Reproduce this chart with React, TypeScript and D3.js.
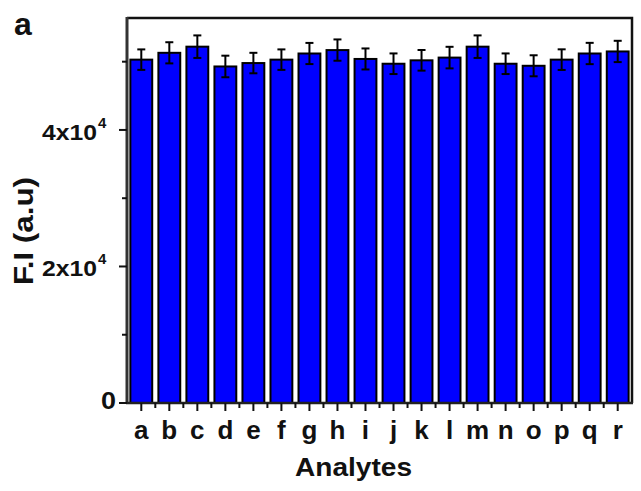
import React from "react";
import * as d3 from "d3";

const categories = ["a","b","c","d","e","f","g","h","i","j","k","l","m","n","o","p","q","r"];
const values = [50300,51300,52200,49300,49800,50300,51200,51700,50400,49700,50200,50600,52200,49700,49400,50300,51200,51500];
const errors = [1500,1550,1650,1580,1500,1500,1550,1560,1540,1510,1510,1580,1650,1510,1540,1510,1560,1560];
const yMajorTicks = [0, 20000, 40000];
const yMinorTicks = [10000, 30000, 50000];
const yTickLabels = [{ base: "0", exp: "" }, { base: "2x10", exp: "4" }, { base: "4x10", exp: "4" }];

const W = 641, H = 491;
const M = { left: 127, right: 632, top: 18, bottom: 403 };
const FONT = "'Liberation Sans', Arial, sans-serif";

export default function App() {
  const x = d3.scaleBand<string>().domain(categories).range([M.left, M.right]).paddingInner(0.22).paddingOuter(0.12);
  const y = d3.scaleLinear().domain([0, 56400]).range([M.bottom, M.top]);
  const bw = x.bandwidth();
  const step = x.step();
  const minorX = categories.slice(0, -1).map((c) => (x(c) as number) + bw / 2 + step / 2);
  return (
    <svg width={W} height={H} style={{ position: "absolute", left: 0, top: 0, background: "#fff" }} fontFamily={FONT}>
      {/* bars */}
      {categories.map((c, i) => (
        <rect key={c} x={x(c)} y={y(values[i])} width={bw} height={y(0) - y(values[i])}
          fill="#0000ff" stroke="#000" strokeWidth={2} />
      ))}
      {/* error bars */}
      {categories.map((c, i) => {
        const cx = (x(c) as number) + bw / 2;
        const t = y(values[i] + errors[i]);
        const b = y(values[i] - errors[i]);
        return (
          <g key={"e" + c} stroke="#000" strokeWidth={2}>
            <line x1={cx} x2={cx} y1={t} y2={b} />
            <line x1={cx - 4} x2={cx + 4} y1={t} y2={t} />
            <line x1={cx - 4} x2={cx + 4} y1={b} y2={b} />
          </g>
        );
      })}
      {/* frame */}
      <path d={`M${M.left},${M.top}H${M.right}V${M.bottom}`} fill="none" stroke="#111" strokeWidth={2.5} />
      <line x1={M.left} x2={M.left} y1={M.top - 1} y2={M.bottom + 1} stroke="#333" strokeWidth={3} />
      <line x1={M.left - 1} x2={M.right + 1} y1={M.bottom} y2={M.bottom} stroke="#222" strokeWidth={2.5} />
      {/* y ticks */}
      {yMajorTicks.map((v) => (
        <line key={"ym" + v} x1={M.left - 8} x2={M.left} y1={y(v)} y2={y(v)} stroke="#111" strokeWidth={2} />
      ))}
      {yMinorTicks.map((v) => (
        <line key={"yn" + v} x1={M.left - 5} x2={M.left} y1={y(v)} y2={y(v)} stroke="#111" strokeWidth={2} />
      ))}
      {yMajorTicks.map((v, i) => {
        const lab = yTickLabels[i];
        if (!lab.exp) {
          return (
            <text key={"yl" + v} x={M.left - 11} y={y(v) + 6} textAnchor="end" fontSize={24} fontWeight="bold" fill="#111"
              textLength={15} lengthAdjust="spacingAndGlyphs">{lab.base}</text>
          );
        }
        return (
          <g key={"yl" + v}>
            <text x={42} y={y(v) + 10} fontSize={22} fontWeight="bold" fill="#111"
              textLength={55} lengthAdjust="spacingAndGlyphs">{lab.base}</text>
            <text x={98} y={y(v) - 2} fontSize={15} fontWeight="bold" fill="#111">{lab.exp}</text>
          </g>
        );
      })}
      {/* x ticks */}
      {categories.map((c) => {
        const cx = (x(c) as number) + bw / 2;
        return <line key={"xm" + c} x1={cx} x2={cx} y1={M.bottom} y2={M.bottom + 8} stroke="#111" strokeWidth={2} />;
      })}
      {minorX.map((mx, i) => (
        <line key={"xn" + i} x1={mx} x2={mx} y1={M.bottom} y2={M.bottom + 5} stroke="#111" strokeWidth={2} />
      ))}
      {categories.map((c) => (
        <text key={"xl" + c} x={(x(c) as number) + bw / 2} y={439} textAnchor="middle" fontSize={26} fontWeight="bold" fill="#111">
          {c}
        </text>
      ))}
      {/* axis titles */}
      <text x={295} y={476} fontSize={26} fontWeight="bold" fill="#111" textLength={117} lengthAdjust="spacingAndGlyphs">Analytes</text>
      <text transform={`translate(33,285) rotate(-90)`} fontSize={28} fontWeight="bold" fill="#111"
        textLength={108} lengthAdjust="spacingAndGlyphs">F.I (a.u)</text>
      <text x={14} y={35} fontSize={32} fontWeight="bold" fill="#111">a</text>
    </svg>
  );
}
